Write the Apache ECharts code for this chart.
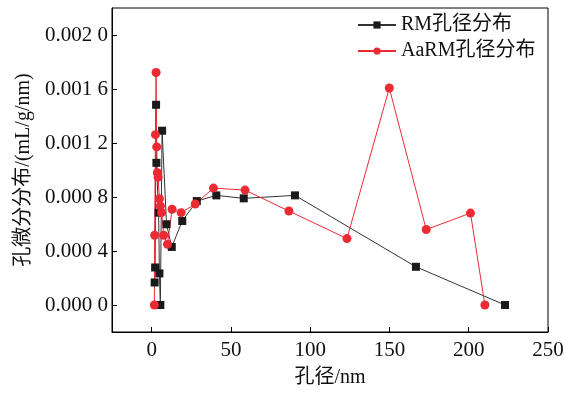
<!DOCTYPE html>
<html><head><meta charset="utf-8">
<script src="https://cdn.jsdelivr.net/npm/echarts@6/dist/echarts.min.js"></script>
<style>html,body{margin:0;padding:0;background:#fff}#c{width:578px;height:393px}</style>
</head><body><div id="c"></div>
<script>
const rmX = [1.9, 2.2, 2.8, 3.0, 4.4, 4.9, 5.5, 6.6, 9.4, 12.7, 19.3, 28.5, 40.8, 58.1, 90.4, 166.7, 222.9];
const rmY = [0.000167, 0.000278, 0.001483, 0.001053, 0.000684, 0.000234, 0.0, 0.001291, 0.000598, 0.00043, 0.000622, 0.00077, 0.000812, 0.000790, 0.000812, 0.000283, 0.0];
const aaX = [1.7, 1.9, 2.4, 2.8, 3.2, 3.6, 4.1, 4.9, 5.5, 6.3, 7.6, 10.0, 12.9, 18.6, 27.5, 39.0, 58.9, 86.6, 123.2, 149.9, 173.2, 201.1, 210.2];
const aaY = [0.0, 0.000517, 0.001262, 0.001722, 0.001171, 0.00098, 0.000947, 0.000787, 0.000733, 0.000684, 0.000517, 0.00045, 0.000709, 0.000684, 0.000748, 0.000866, 0.000851, 0.000696, 0.000492, 0.001607, 0.000559, 0.000681, 0.0];
const xTicks = [0, 50, 100, 150, 200, 250];
const yTicks = [0, 0.0004, 0.0008, 0.0012, 0.0016, 0.002];
const seriesNames = ['RM孔径分布', 'AaRM孔径分布'];
const xName = '孔径/nm';
const yName = '孔微分分布/(mL/g/nm)';

const FONT = '"Liberation Serif", "Times New Roman", "Noto Sans CJK SC", serif';
const chart = echarts.init(document.getElementById('c'), null, {renderer: 'canvas'});
const zip = (a, b) => a.map((v, i) => [v, b[i]]);
chart.setOption({
  animation: false,
  grid: {left: 112, right: 30, top: 8, bottom: 60, show: true, borderColor: '#000', borderWidth: 1},
  legend: {
    orient: 'vertical', left: 352, top: 10, itemGap: 6, itemWidth: 38, itemHeight: 9,
    textStyle: {fontFamily: FONT, fontSize: 20, color: '#111'},
    data: seriesNames
  },
  xAxis: {
    type: 'value', min: -25, max: 250,
    name: xName, nameLocation: 'middle', nameGap: 36,
    nameTextStyle: {fontFamily: FONT, fontSize: 20, color: '#111'},
    axisLine: {show: true, onZero: false, lineStyle: {color: '#000', width: 1}},
    axisTick: {show: true, inside: true, length: 5, customValues: xTicks, lineStyle: {color: '#000'}},
    axisLabel: {fontFamily: FONT, fontSize: 21, color: '#111', margin: 8, customValues: xTicks},
    splitLine: {show: false}
  },
  yAxis: {
    type: 'value', min: -0.0002, max: 0.0022,
    name: yName, nameLocation: 'middle', nameGap: 76,
    nameTextStyle: {fontFamily: FONT, fontSize: 20, color: '#111'},
    axisLine: {show: true, onZero: false, lineStyle: {color: '#000', width: 1}},
    axisTick: {show: true, inside: true, length: 5, customValues: yTicks, lineStyle: {color: '#000'}},
    axisLabel: {
      fontFamily: FONT, fontSize: 21, color: '#111', margin: 4, customValues: yTicks,
      formatter: v => { const s = Math.abs(v).toFixed(4); return s.slice(0, 5) + ' ' + s.slice(5); }
    },
    splitLine: {show: false}
  },
  series: [
    {
      name: seriesNames[0], type: 'line', data: zip(rmX, rmY),
      symbol: 'rect', symbolSize: 8,
      lineStyle: {color: '#333', width: 1},
      itemStyle: {color: '#1a1a1a'}
    },
    {
      name: seriesNames[1], type: 'line', data: zip(aaX, aaY),
      symbol: 'circle', symbolSize: 9,
      lineStyle: {color: '#ec2a33', width: 1},
      itemStyle: {color: '#ec2a33'}
    }
  ]
});
</script></body></html>
